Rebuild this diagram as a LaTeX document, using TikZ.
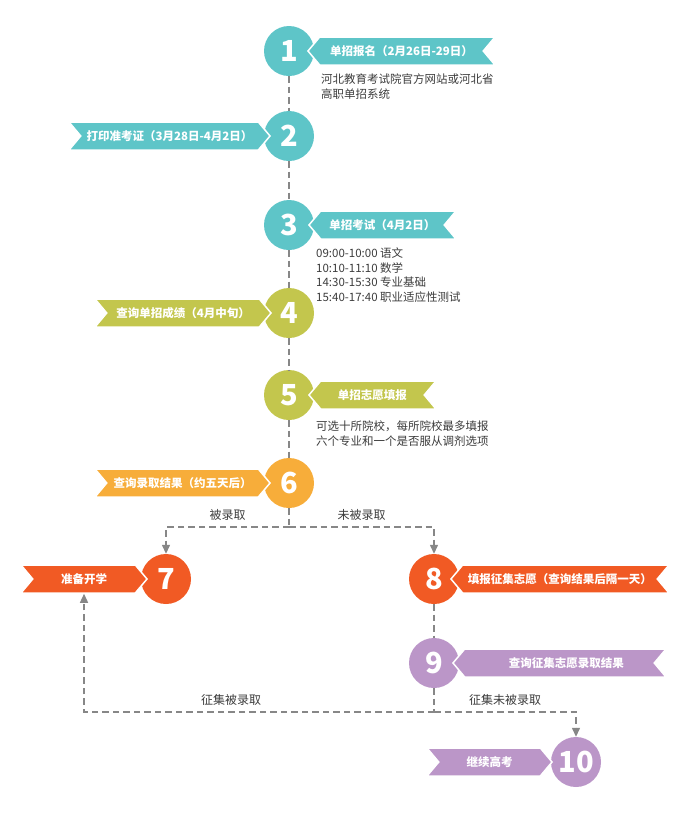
\documentclass[tikz,border=0pt]{standalone}
\usepackage{fontspec}
\setmainfont{Noto Sans CJK SC}
\usetikzlibrary{shapes.symbols,arrows.meta}

\definecolor{tealstep}{RGB}{94,197,200}
\definecolor{olivestep}{RGB}{195,198,77}
\definecolor{orangestep}{RGB}{247,173,58}
\definecolor{redstep}{RGB}{241,90,36}
\definecolor{purplestep}{RGB}{187,150,200}
\definecolor{linegray}{RGB}{135,135,135}
\definecolor{notegray}{RGB}{60,60,60}

\begin{document}
\begin{tikzpicture}[
    x=1pt, y=-1pt,
    stepnum/.style={
        circle,
        fill=#1,
        minimum size=50pt,
        inner sep=0pt,
        text=white,
        font=\fontsize{29}{29}\selectfont\bfseries
    },
    ribbonleft/.style={
        signal,
        signal from=west,
        signal to=east,
        signal pointer angle=100,
        fill=#1,
        draw=white,
        line width=1.5pt,
        minimum height=28pt,
        inner xsep=2pt,
        text=white,
        font=\fontsize{11.5}{12}\selectfont\bfseries,
        anchor=east
    },
    ribbonright/.style={
        signal,
        signal from=east,
        signal to=west,
        signal pointer angle=100,
        fill=#1,
        draw=white,
        line width=1.5pt,
        minimum height=28pt,
        inner xsep=2pt,
        text=white,
        font=\fontsize{11.5}{12}\selectfont\bfseries,
        anchor=west
    },
    note/.style={
        anchor=north west,
        inner sep=0pt,
        align=left,
        text=notegray,
        font=\fontsize{11.5}{14.5}\selectfont
    },
    tag/.style={text=notegray, font=\fontsize{12}{12}\selectfont},
    flow/.style={draw=linegray, line width=1.3pt, dash pattern=on 6.5pt off 4pt},
    flowarrow/.style={flow, -{Triangle[width=8pt,length=9pt]}}
]
    \useasboundingbox (0,0) rectangle (686,815);

    % step circles
    \node[stepnum=tealstep] (c1) at (289,51) {1};
    \node[stepnum=tealstep] (c2) at (289,136) {2};
    \node[stepnum=tealstep] (c3) at (289,225) {3};
    \node[stepnum=olivestep] (c4) at (289,313) {4};
    \node[stepnum=olivestep] (c5) at (289,395) {5};
    \node[stepnum=orangestep] (c6) at (289,483) {6};
    \node[stepnum=redstep] (c7) at (166,579) {7};
    \node[stepnum=redstep] (c8) at (434,579) {8};
    \node[stepnum=purplestep] (c9) at (434,663) {9};
    \node[stepnum=purplestep] (c10) at (576,762) {10};

    % ribbons
    \node[ribbonright=tealstep, minimum width=187pt] (b1) at (307,51)
        {单招报名（2月26日-29日）};
    \node[ribbonleft=tealstep, minimum width=201pt] (b2) at (271,136)
        {打印准考证（3月28日-4月2日）};
    \node[ribbonright=tealstep, minimum width=147pt] (b3) at (308,225)
        {单招考试（4月2日）};
    \node[ribbonleft=olivestep, minimum width=176pt] (b4) at (272,313)
        {查询单招成绩（4月中旬）};
    \node[ribbonright=olivestep, minimum width=127pt] (b5) at (308,395)
        {单招志愿填报};
    \node[ribbonleft=orangestep, minimum width=175pt] (b6) at (271,483)
        {查询录取结果（约五天后）};
    \node[ribbonleft=redstep, minimum width=126pt] (b7) at (148,579)
        {准备开学};
    \node[ribbonright=redstep, minimum width=218pt] (b8) at (450,579)
        {填报征集志愿（查询结果后隔一天）};
    \node[ribbonright=purplestep, minimum width=213pt] (b9) at (452,663)
        {\hspace*{14pt}查询征集志愿录取结果};
    \node[ribbonleft=purplestep, minimum width=125pt] (b10) at (553,762)
        {继续高考};

    % notes
    \node[note] (t1) at (321,74)
        {河北教育考试院官方网站或河北省\\高职单招系统};
    \node[note] (t3) at (316,248)
        {09:00-10:00 语文\\10:10-11:10 数学\\14:30-15:30 专业基础\\15:40-17:40 职业适应性测试};
    \node[note] (t5) at (316,421)
        {可选十所院校，每所院校最多填报\\六个专业和一个是否服从调剂选项};

    % connectors
    \coordinate (split6) at (289,527);
    \coordinate (split9) at (434,712);

    \draw[flow] (c1) -- (c2);
    \draw[flow] (c2) -- (c3);
    \draw[flow] (c3) -- (c4);
    \draw[flow] (c4) -- (c5);
    \draw[flow] (c5) -- (c6);
    \draw[flow] (c6) -- (split6);
    \draw[flowarrow] (split6) -| node[tag, pos=0.25, above=3pt] {被录取} (c7);
    \draw[flowarrow] (split6) -| node[tag, pos=0.25, above=3pt] {未被录取} (c8);
    \draw[flow] (c8) -- (c9);
    \draw[flow] (c9) -- (split9);
    \draw[flowarrow] (split9) -| node[tag, pos=0.29, above=3pt] {征集被录取} (b7);
    \draw[flowarrow] (split9) -| node[tag, pos=0.25, above=3pt] {征集未被录取} (c10);
\end{tikzpicture}
\end{document}
